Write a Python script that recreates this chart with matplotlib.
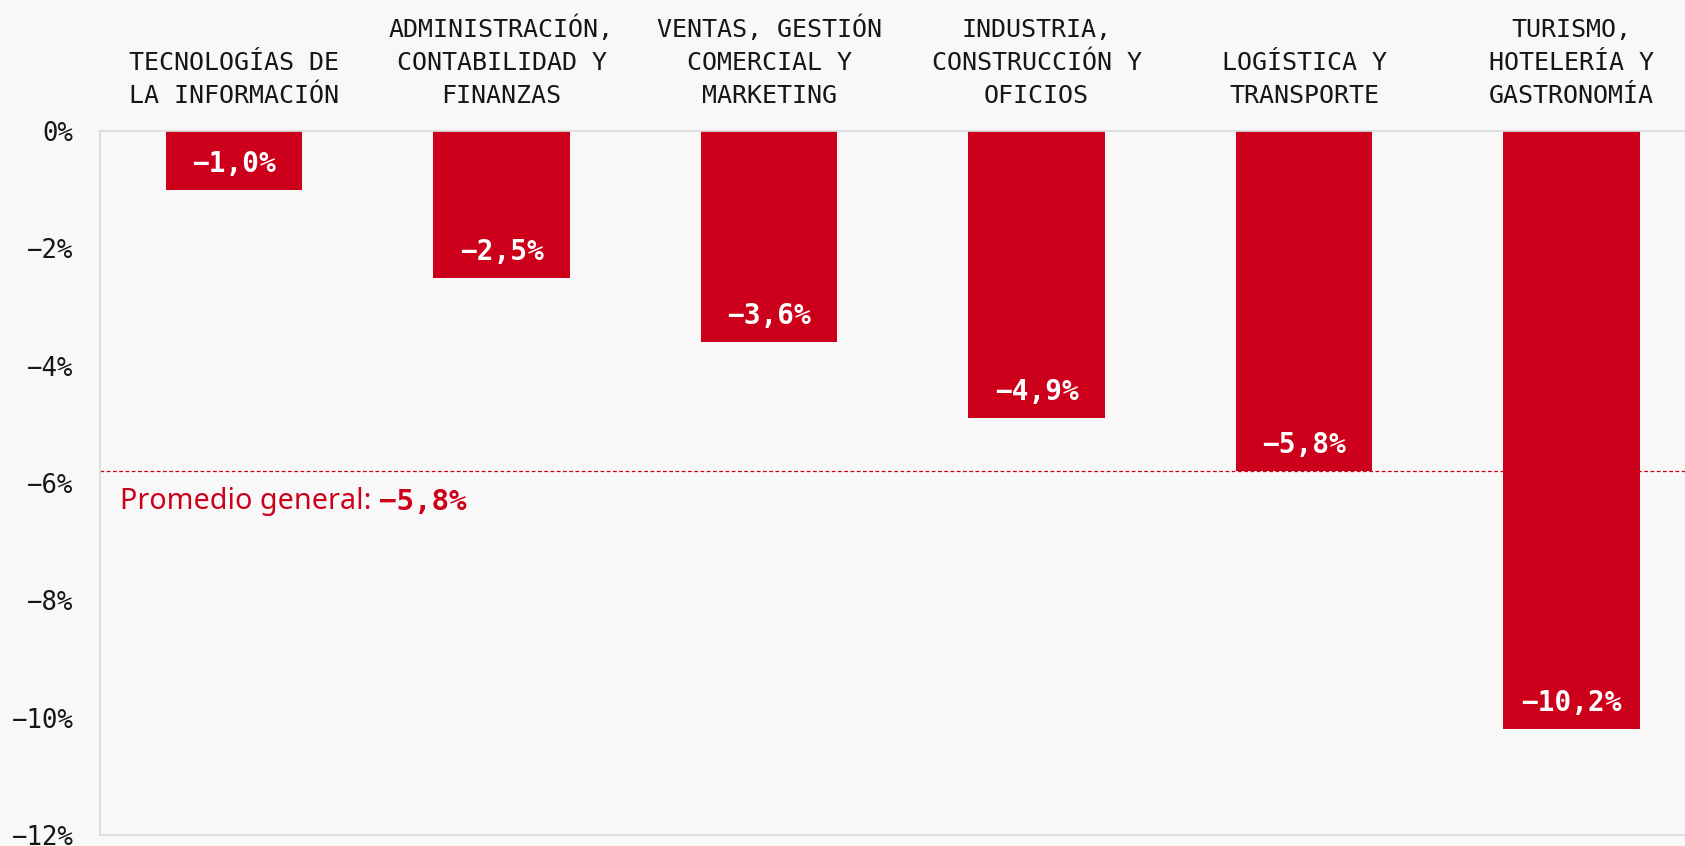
import matplotlib.pyplot as plt
from matplotlib.ticker import FuncFormatter

# datos
categorias = [
    ["TECNOLOGÍAS DE", "LA INFORMACIÓN"],
    ["ADMINISTRACIÓN,", "CONTABILIDAD Y", "FINANZAS"],
    ["VENTAS, GESTIÓN", "COMERCIAL Y", "MARKETING"],
    ["INDUSTRIA,", "CONSTRUCCIÓN Y", "OFICIOS"],
    ["LOGÍSTICA Y", "TRANSPORTE"],
    ["TURISMO,", "HOTELERÍA Y", "GASTRONOMÍA"],
]
variacion = [-1.0, -2.5, -3.6, -4.9, -5.8, -10.2]
promedio = -5.8
yticks = [0, -2, -4, -6, -8, -10, -12]

ROJO = '#CC001A'
FONDO = '#F8F8F8'
GRIS = '#DCDCDC'
TEXTO = '#161616'
MONO = 'DejaVu Sans Mono'

plt.rcParams['font.family'] = MONO


def pct(v, decimales=1):
    s = f'{v:.{decimales}f}'.replace('.', ',').replace('-', '\u2212')
    return s + '%'


fig = plt.figure(figsize=(16.85, 8.46), dpi=100, facecolor=FONDO)
ax = fig.add_axes([100 / 1685, 11 / 846, 1 - 100 / 1685, 704 / 846])
ax.set_facecolor(FONDO)

x = list(range(len(variacion)))
ax.bar(x, variacion, width=0.51, color=ROJO, zorder=2)
ax.axhline(promedio, color=ROJO, lw=0.9, ls=(0, (3, 2)), zorder=1)

ax.set_xlim(-0.501, 5.424)
ax.set_ylim(-12, 0)
ax.set_xticks([])
ax.set_yticks(yticks)
ax.yaxis.set_major_formatter(FuncFormatter(lambda v, p: pct(round(v), 0).replace('\u22120', '0')))
ax.tick_params(axis='y', length=0, pad=19, labelsize=18.5, labelcolor=TEXTO)

for s in ['left', 'top', 'bottom']:
    ax.spines[s].set_color(GRIS)
    ax.spines[s].set_linewidth(1.3)
ax.spines['right'].set_visible(False)

# etiquetas de categoria, linea por linea desde abajo
for i, lineas in enumerate(categorias):
    for j, linea in enumerate(reversed(lineas)):
        ax.annotate(linea, xy=(i, 0), xytext=(0, 20 + j * 24),
                    textcoords='offset points', ha='center', va='baseline',
                    fontsize=18, color=TEXTO, annotation_clip=False)

# valores dentro de las barras
for i, v in enumerate(variacion):
    ax.annotate(pct(v), xy=(i, v), xytext=(0, 13), textcoords='offset points',
                ha='center', va='baseline', color='white', fontsize=20,
                fontweight='bold', zorder=3)

# promedio general
t1 = ax.annotate('Promedio general: ', xy=(0, promedio),
                 xycoords=('axes fraction', 'data'), xytext=(14.4, -27),
                 textcoords='offset points', ha='left', va='baseline',
                 fontsize=20.7, color=ROJO, family=['Noto Sans', 'DejaVu Sans'])
ax.annotate(pct(promedio), xy=(1, 0), xycoords=t1, ha='left', va='bottom',
            fontsize=21, color=ROJO, fontweight='bold')

fig.savefig('out.png', dpi=100, facecolor=FONDO)
